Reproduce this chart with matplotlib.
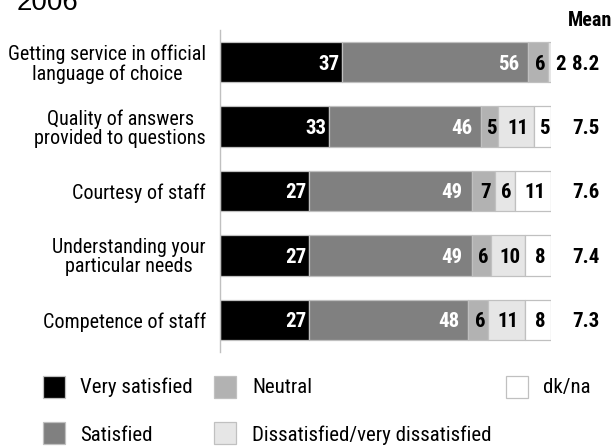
import matplotlib
matplotlib.use("Agg")
import matplotlib.pyplot as plt
from matplotlib.patches import Rectangle

categories = ["Getting service in official\nlanguage of choice",
              "Quality of answers\nprovided to questions",
              "Courtesy of staff",
              "Understanding your\nparticular needs",
              "Competence of staff"]
very_satisfied = [37, 33, 27, 27, 27]
satisfied = [56, 46, 49, 49, 48]
neutral = [6, 5, 7, 6, 6]
dissatisfied = [2, 11, 6, 10, 11]
dk_na = [0, 5, 11, 8, 8]
means = [8.2, 7.5, 7.6, 7.4, 7.3]
series_names = ["Very satisfied", "Satisfied", "Neutral",
                "Dissatisfied/very dissatisfied", "dk/na"]
title = "2006"

NARROW = ["Roboto Condensed", "Archivo Narrow", "DejaVu Sans"]
REG = ["Liberation Sans", "DejaVu Sans"]

colors = ["#000000", "#808080", "#b2b2b2", "#e6e6e6", "#ffffff"]
edge = "#c0c0c0"
label_colors = ["white", "white", "black", "black", "black"]
VAL_FS = 15

W, H = 615, 446
fig = plt.figure(figsize=(W / 100, H / 100), dpi=100)
ax = fig.add_axes([220 / W, 1 - 352 / H, 331 / W, 322 / H])

data = [very_satisfied, satisfied, neutral, dissatisfied, dk_na]
ypos = list(range(len(categories)))
left = [0] * len(categories)
for k, vals in enumerate(data):
    ax.barh(ypos, vals, left=left, height=0.63, color=colors[k],
            edgecolor=edge, linewidth=0.9, zorder=2)
    for i, v in enumerate(vals):
        if v <= 0:
            continue
        end = left[i] + v
        kw = dict(textcoords="offset pixels", va="center_baseline",
                  fontsize=VAL_FS, fontweight="bold", family=NARROW,
                  annotation_clip=False)
        if v < 3:
            ax.annotate(str(v), (end, i), xytext=(1, 0), ha="left",
                        color="black", **kw)
        elif k == 0:
            ax.annotate(str(v), (end, i), xytext=(-3, 0), ha="right",
                        color=label_colors[k], **kw)
        elif k == 1:
            ax.annotate(str(v), (end, i), xytext=(-9, 0), ha="right",
                        color=label_colors[k], **kw)
        else:
            ax.annotate(str(v), (left[i] + v / 2, i), xytext=(2, 0),
                        ha="center", color=label_colors[k], **kw)
    left = [l + v for l, v in zip(left, vals)]

mean_x = (586 - 220) / 3.31
for i, m in enumerate(means):
    ax.text(mean_x, i, f"{m:.1f}", ha="center", va="center_baseline",
            fontsize=VAL_FS, fontweight="bold", family=NARROW, clip_on=False)

ax.set_xlim(0, 100)
ax.set_ylim(-0.5, len(categories) - 0.5)
ax.invert_yaxis()
ax.set_yticks(ypos)
ax.set_yticklabels(categories, fontsize=14.5, family=NARROW,
                   multialignment="center", linespacing=1.0)
ax.tick_params(axis="y", length=0, pad=10)
ax.set_xticks([])
for s in ["top", "right", "bottom"]:
    ax.spines[s].set_visible(False)
ax.spines["left"].set_color(edge)
ax.spines["left"].set_linewidth(1)

fig.text(590 / W, 1 - 26 / H, "Mean", ha="center", va="baseline",
         fontsize=14.5, fontweight="bold", family=NARROW)
fig.text(17 / W, 1 - 10 / H, title, ha="left", va="baseline",
         fontsize=20, family=REG)

legend_items = [
    (0, 43, 376, 80, 393),
    (1, 43, 422, 80, 441),
    (2, 214, 376, 252, 393),
    (3, 214, 422, 252, 441),
    (4, 506, 376, 543, 393),
]
for k, sx, sy, tx, ty in legend_items:
    fig.patches.append(Rectangle((sx / W, 1 - (sy + 22) / H), 22 / W, 22 / H,
                                 transform=fig.transFigure,
                                 facecolor=colors[k], edgecolor=edge,
                                 linewidth=0.9))
    fig.text(tx / W, 1 - ty / H, series_names[k], ha="left", va="baseline",
             fontsize=15, family=NARROW)

fig.savefig("out.png", dpi=100)
